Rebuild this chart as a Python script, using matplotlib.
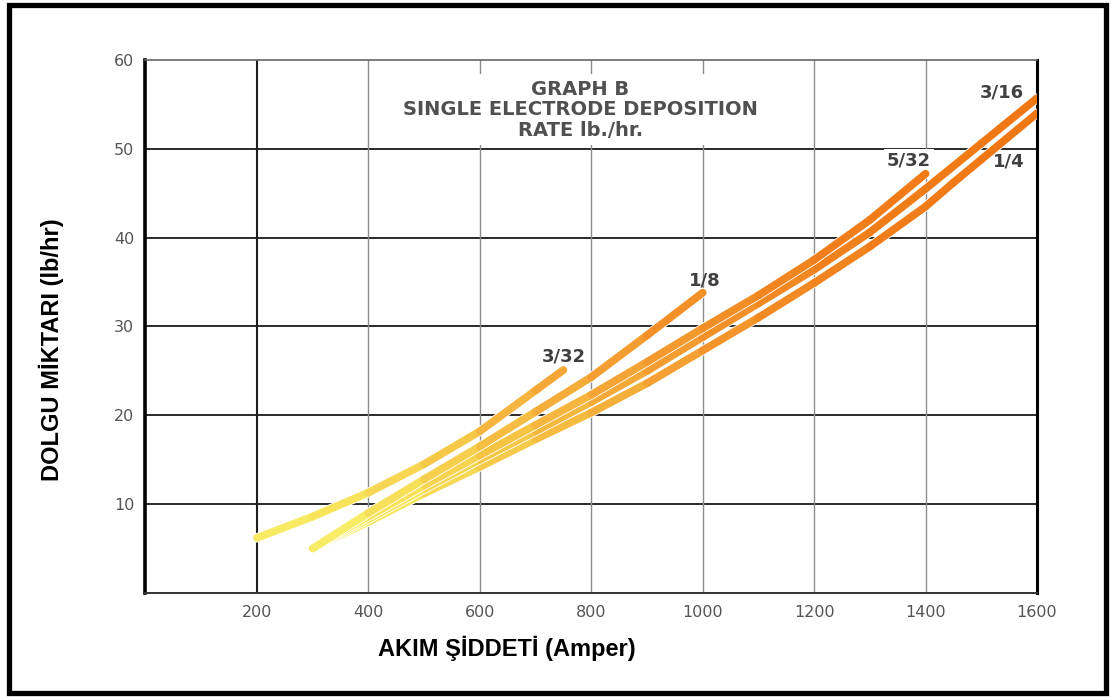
import matplotlib
matplotlib.use("Agg")
import matplotlib.pyplot as plt
from matplotlib.collections import LineCollection
from matplotlib.colors import LinearSegmentedColormap, Normalize
from matplotlib.patches import Rectangle

plt.rcParams['font.family'] = ['Liberation Sans', 'DejaVu Sans']

# electrode size -> (current in A, deposition rate in lb/hr)
amps_3_32 = [200, 300, 400, 500, 600, 700, 750]
rate_3_32 = [6.2, 8.6, 11.3, 14.5, 18.2, 22.8, 25.1]

amps_1_8 = [300, 400, 500, 600, 700, 800, 900, 1000]
rate_1_8 = [5.0, 9.0, 12.8, 16.5, 20.4, 24.3, 29.0, 33.8]

amps_5_32 = [300, 400, 500, 600, 700, 800, 900, 1000, 1100, 1200, 1300, 1400]
rate_5_32 = [5.0, 8.6, 12.1, 15.5, 18.9, 22.3, 26.0, 29.8, 33.5, 37.5, 42.0, 47.2]

amps_3_16 = [300, 400, 500, 600, 700, 800, 900, 1000, 1100, 1200, 1300, 1400, 1500, 1600]
rate_3_16 = [5.0, 8.3, 11.7, 15.0, 18.2, 21.5, 25.0, 28.8, 32.6, 36.4, 40.6, 45.5, 50.6, 55.7]

amps_1_4 = [300, 400, 500, 600, 700, 800, 900, 1000, 1100, 1200, 1300, 1400, 1450, 1500, 1600]
rate_1_4 = [5.0, 8.0, 11.2, 14.2, 17.3, 20.3, 23.6, 27.3, 31.0, 34.9, 39.0, 43.5, 46.2, 48.8, 54.0]

x_ticks = [200, 400, 600, 800, 1000, 1200, 1400, 1600]
y_ticks = [10, 20, 30, 40, 50, 60]

# drawn bottom-most first
series = [
    ('1/4', amps_1_4, rate_1_4),
    ('3/16', amps_3_16, rate_3_16),
    ('5/32', amps_5_32, rate_5_32),
    ('1/8', amps_1_8, rate_1_8),
    ('3/32', amps_3_32, rate_3_32),
]
label_pos = {
    '3/32': (751, 26.6),
    '1/8': (1004, 35.2),
    '5/32': (1370, 48.7),
    '3/16': (1537, 56.3),
    '1/4': (1550, 48.6),
}

cmap = LinearSegmentedColormap.from_list('dep', [
    (0.0, '#FAF67A'), (0.15, '#F7E85E'), (0.3, '#F5C043'),
    (0.42, '#F4A133'), (0.55, '#F28A24'), (0.7, '#F07C18'), (1.0, '#EE7512')])
norm = Normalize(0, 60)

fig = plt.figure(figsize=(11.14, 7.0), dpi=100)
ax = fig.add_axes([0.1306, 0.1529, 0.8003, 0.7614])

for y in y_ticks[:-1]:
    ax.axhline(y, color='#2a2a2a', lw=1.4, zorder=1)
for x in x_ticks[:-1]:
    if x == 200:
        ax.axvline(x, color='#1e1e1e', lw=1.5, zorder=1)
    else:
        ax.axvline(x, color='#8c8c8c', lw=1.0, zorder=1)

lw = 5.6
for i, (name, xs, ys) in enumerate(series):
    z = 5 + 2 * i
    ax.plot(xs, ys, color='white', lw=lw + 1.2, solid_capstyle='round',
            solid_joinstyle='round', zorder=z)
    segs = [[(xs[k], ys[k]), (xs[k + 1], ys[k + 1])] for k in range(len(xs) - 1)]
    mids = [(ys[k] + ys[k + 1]) / 2 for k in range(len(xs) - 1)]
    lc = LineCollection(segs, colors=cmap(norm(mids)), linewidths=lw,
                        capstyle='round', joinstyle='round', zorder=z + 1)
    ax.add_collection(lc)
    lx, ly = label_pos[name]
    box = dict(facecolor='white', edgecolor='none', pad=2) if name == '5/32' else None
    ax.text(lx, ly, name, ha='center', va='center', fontsize=13, fontweight='bold',
            family='DejaVu Sans', color='#404040', bbox=box, zorder=3)

ax.text(780, 54.4, 'GRAPH B\nSINGLE ELECTRODE DEPOSITION\nRATE lb./hr.',
        ha='center', va='center', fontsize=14, fontweight='bold', color='#505050',
        family='DejaVu Sans', linespacing=1.1, zorder=3,
        bbox=dict(facecolor='white', edgecolor='none', pad=4))

ax.set_xlim(0, 1600)
ax.set_ylim(0, 60)
ax.set_xticks(x_ticks)
ax.set_yticks(y_ticks)
ax.tick_params(length=0, labelsize=11.5, labelcolor='#555555')
ax.tick_params(axis='x', pad=9)
ax.tick_params(axis='y', pad=8)
for lab in ax.get_xticklabels() + ax.get_yticklabels():
    lab.set_family('DejaVu Sans')

ax.spines['left'].set_linewidth(2.6)
ax.spines['left'].set_color('black')
ax.spines['right'].set_linewidth(2.2)
ax.spines['right'].set_color('black')
ax.spines['top'].set_linewidth(1.2)
ax.spines['top'].set_color('#666666')
ax.spines['bottom'].set_linewidth(1.4)
ax.spines['bottom'].set_color('#333333')

fig.text(0.455, 0.074, 'AKIM ŞİDDETİ (Amper)', ha='center', va='center',
         fontsize=17, fontweight='bold', color='black')
fig.text(0.046, 0.5, 'DOLGU MİKTARI (lb/hr)', ha='center', va='center',
         rotation=90, fontsize=17, fontweight='bold', color='black')

fig.add_artist(Rectangle((0.0085, 0.01), 0.984, 0.983, transform=fig.transFigure,
                         fill=False, edgecolor='black', linewidth=3.8))

fig.savefig('out.png', dpi=100)
